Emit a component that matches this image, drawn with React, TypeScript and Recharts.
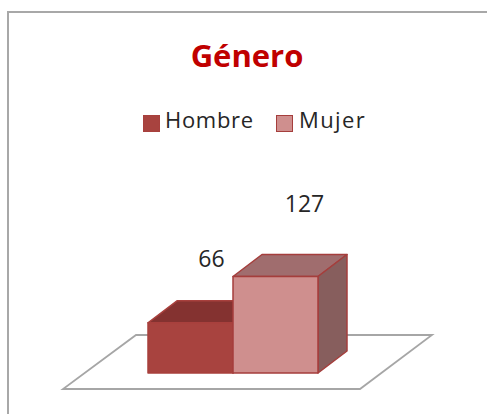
import { Bar, BarChart, Customized, LabelList, Legend, XAxis, YAxis } from "recharts";

const categories = ["Género"];
const hombre = [66];
const mujer = [127];

const data = categories.map((name, i) => ({ name, Hombre: hombre[i], Mujer: mujer[i] }));

const W = 487;
const H = 414;
const margin = { top: 259, right: 106, bottom: 41, left: 84 };
const FONT = "'Open Sans', sans-serif";

// 3d look of the box
const DX = 29;
const DY = 22;

const colors = {
  Hombre: { front: "#a8433f", top: "#843230", side: "#843230", line: "#a8403d" },
  Mujer: { front: "#cf8f8e", top: "#a06d6e", side: "#875e5d", line: "#a53e3c" },
};

const Box3D = (props: any) => {
  const { x, y, width, height, c } = props;
  const r = x + width;
  const b = y + height;
  return (
    <g stroke={c.line} strokeWidth={1.5} strokeLinejoin="round">
      <path d={`M${x},${y} L${x + DX},${y - DY} L${r + DX},${y - DY} L${r},${y} Z`} fill={c.top} />
      <path d={`M${r},${y} L${r + DX},${y - DY} L${r + DX},${b - DY} L${r},${b} Z`} fill={c.side} />
      <rect x={x} y={y} width={width} height={height} fill={c.front} />
    </g>
  );
};

// floor under the bars, runs from the plot edges
const Floor = () => {
  const base = H - margin.bottom;
  const l = margin.left;
  const r = W - margin.right;
  const pts = [
    [l - 21, base + 16],
    [r - 21, base + 16],
    [r + 51, base - 38],
    [l + 52, base - 38],
  ];
  return <polygon points={pts.map((p) => p.join(",")).join(" ")} fill="#fff" stroke="#a6a6a6" strokeWidth={1.8} />;
};

const Title = () => (
  <text x={247} y={67} textAnchor="middle" fontFamily={FONT} fontSize={31} fontWeight={700} fill="#c00000">
    Género
  </text>
);

const valueLabel = (shiftX: number, shiftY: number) => (props: any) => {
  const { x, y, width, value } = props;
  return (
    <text x={x + width / 2 + shiftX} y={y - shiftY} textAnchor="middle" dominantBaseline="middle" fontFamily={FONT} fontSize={23} fill="#262626">
      {value}
    </text>
  );
};

const LegendBox = () => (
  <div style={{ position: "relative", width: 240, height: 24, fontFamily: FONT, fontSize: 22, color: "#262626", lineHeight: "30px" }}>
    <span style={{ position: "absolute", left: 0, top: 1, width: 15, height: 15, background: colors.Hombre.front, border: `1px solid ${colors.Hombre.line}` }} />
    <span style={{ position: "absolute", left: 22, top: -10, letterSpacing: 0.7 }}>Hombre</span>
    <span style={{ position: "absolute", left: 133, top: 1, width: 15, height: 15, background: colors.Mujer.front, border: `1px solid ${colors.Mujer.line}` }} />
    <span style={{ position: "absolute", left: 156, top: -10, letterSpacing: 1.4 }}>Mujer</span>
  </div>
);

export default function App() {
  return (
    <div style={{ position: "absolute", left: 0, top: 0, width: W, height: H, overflow: "hidden", background: "#fff" }}>
      <div style={{ position: "absolute", left: 7, top: 11, width: 490, height: 410, borderLeft: "2px solid #a8a8a8", borderTop: "2px solid #a8a8a8" }} />
      <BarChart width={W} height={H} data={data} margin={margin} barSize={85} barGap={0} style={{ position: "absolute", left: 0, top: 0 }}>
        <XAxis dataKey="name" hide />
        <YAxis hide domain={[0, 150]} />
        <Customized component={Title} />
        <Customized component={Floor} />
        <Legend layout="horizontal" verticalAlign="middle" align="center" content={<LegendBox />} wrapperStyle={{ left: 143, top: 114, width: 240 }} />
        <Bar dataKey="Hombre" isAnimationActive={false} shape={(p: any) => <Box3D {...p} c={colors.Hombre} />}>
          <LabelList dataKey="Hombre" content={valueLabel(21, 62)} />
        </Bar>
        <Bar dataKey="Mujer" isAnimationActive={false} shape={(p: any) => <Box3D {...p} c={colors.Mujer} />}>
          <LabelList dataKey="Mujer" content={valueLabel(29, 71)} />
        </Bar>
      </BarChart>
    </div>
  );
}
